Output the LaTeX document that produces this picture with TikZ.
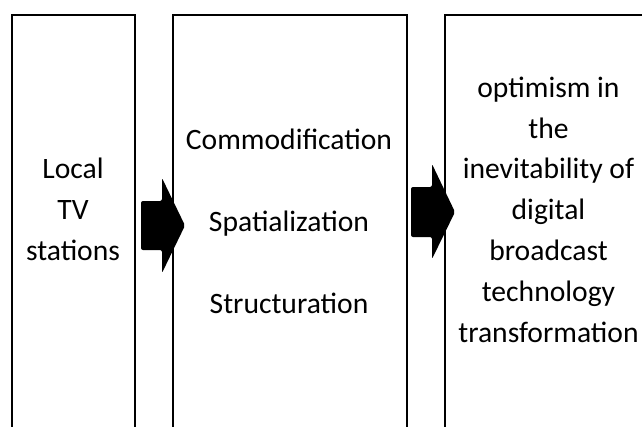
\documentclass[tikz,border=0pt]{standalone}
\usepackage{fontspec}
\setmainfont{Carlito}
\begin{document}
\begin{tikzpicture}[x=1pt,y=-1pt,
  box/.style={draw, line width=2pt, anchor=north west, inner sep=0pt},
  txt/.style={align=center, font=\fontsize{29.6pt}{40.8pt}\selectfont, inner sep=0pt, anchor=base},
  blockarrow/.style={fill=black, rounded corners=2pt}]
\useasboundingbox (0,0) rectangle (642,426);
\clip (0,0) rectangle (642,426);
\node[box, minimum width=123pt, minimum height=430pt] (b1) at (11,14) {};
\node[box, minimum width=234pt, minimum height=430pt] (b2) at (172,14) {};
\node[box, minimum width=209pt, minimum height=430pt] (b3) at (444,14) {};
\node[txt] (t1) at (73,260) {Local\\TV\\stations};
\node[txt] (t2) at (289,313) {Commodification\\[40.8pt]Spatialization\\[40.8pt]Structuration};
\node[txt] (t3) at (548.5,342) {optimism in\\the\\inevitability of\\digital\\broadcast\\technology\\transformation};
\fill[blockarrow] (141,201) -- (162,201) -- (162,178) -- (185,225.5) -- (162,273) -- (162,250) -- (141,250) -- cycle;
\fill[blockarrow] (411,187) -- (432,187) -- (432,164) -- (455,212) -- (432,259) -- (432,237) -- (411,237) -- cycle;
\end{tikzpicture}
\end{document}
